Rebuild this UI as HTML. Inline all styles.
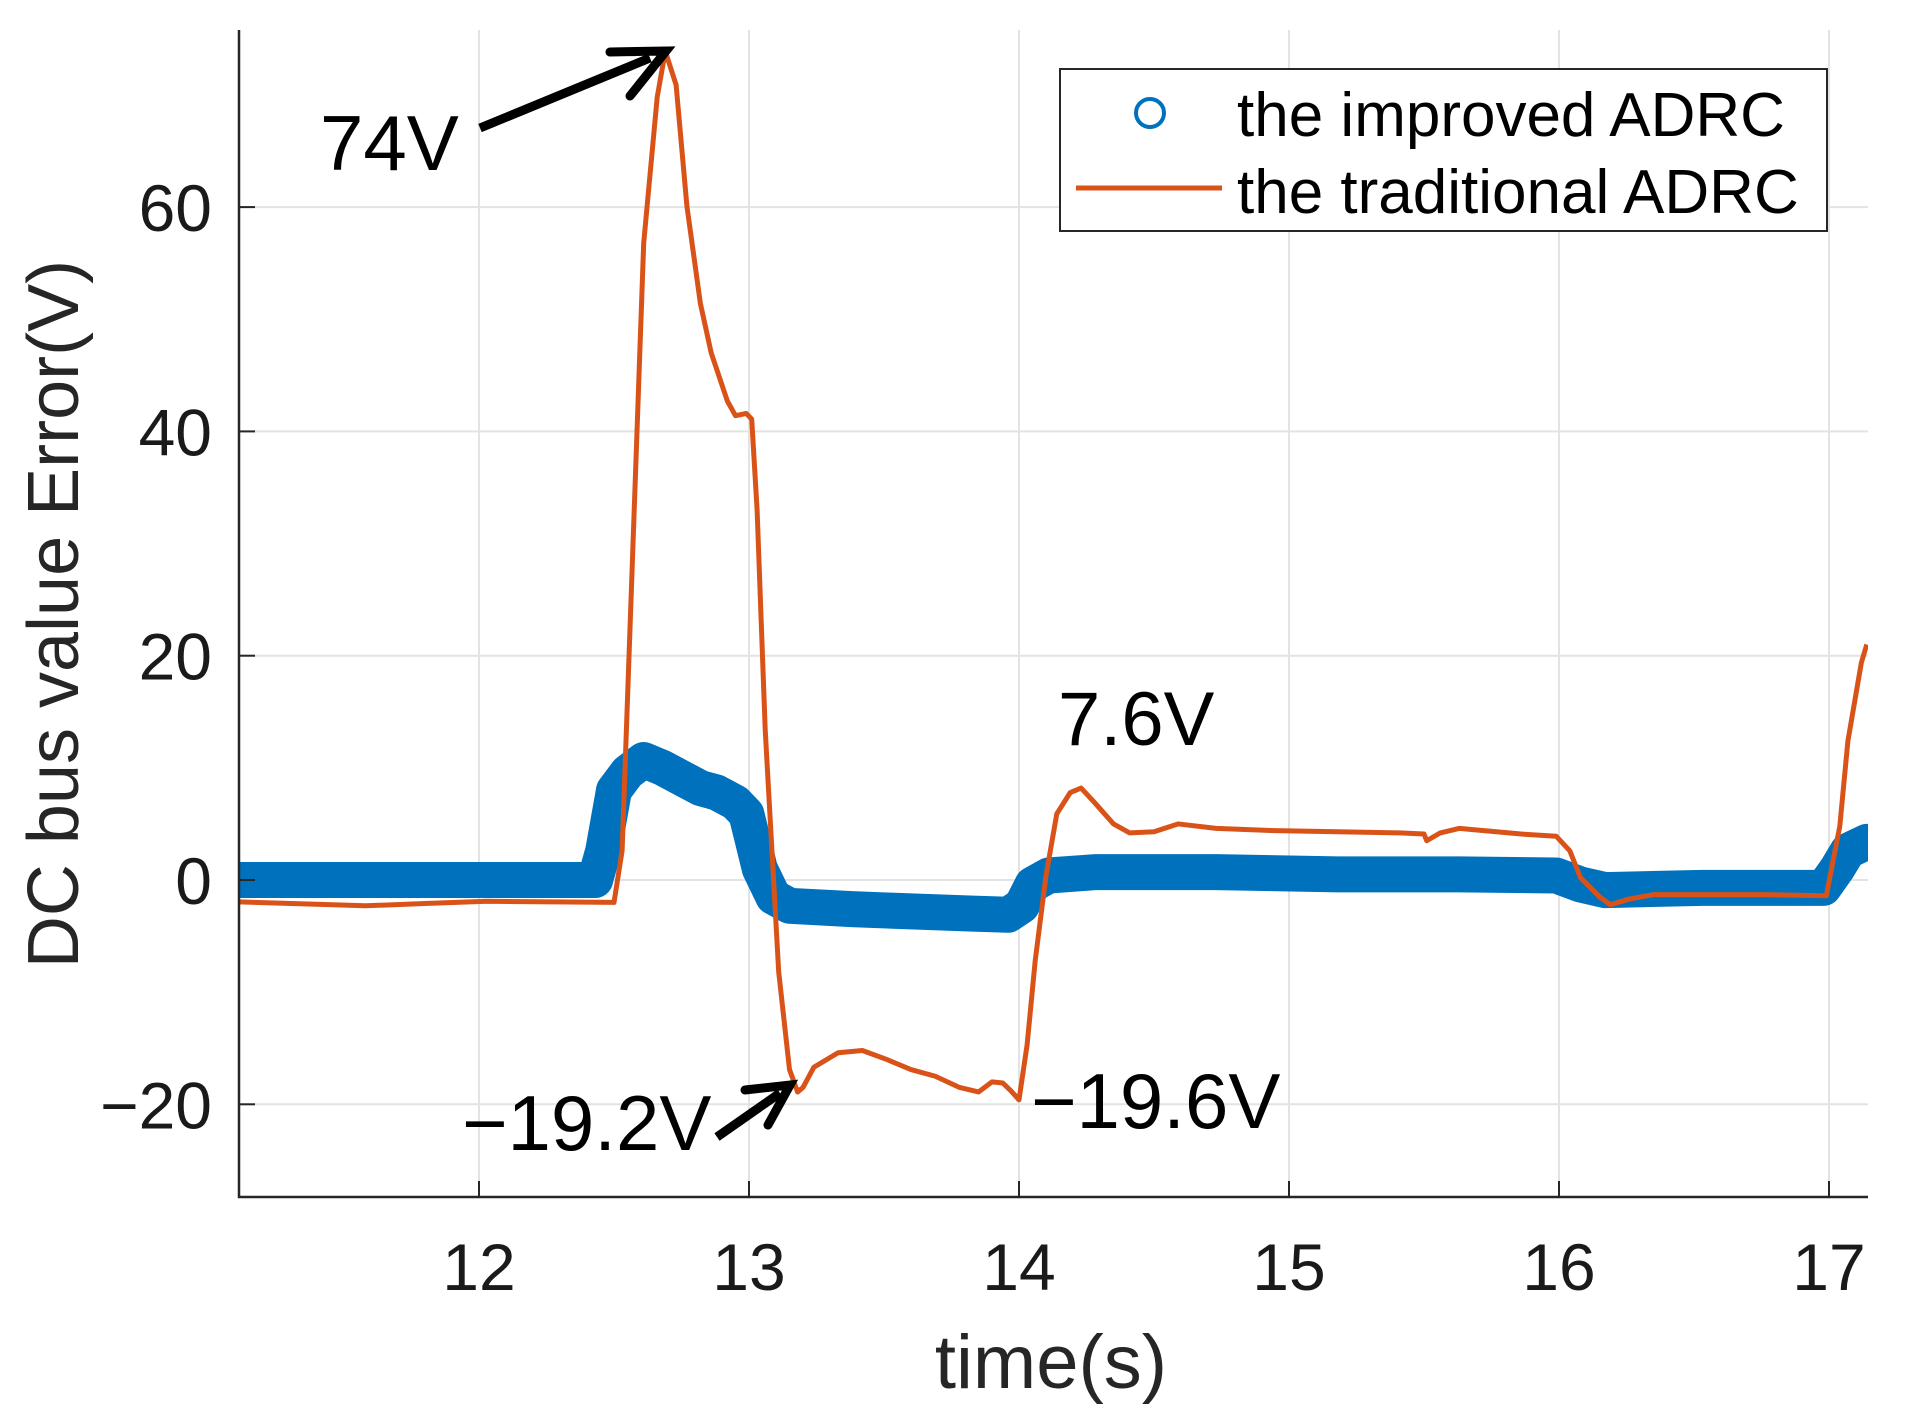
<!DOCTYPE html>
<html><head><meta charset="utf-8"><style>
html,body{margin:0;padding:0;background:#fff;}
svg{display:block;font-family:"Liberation Sans",sans-serif;}
</style></head><body>
<svg id="chart" width="1906" height="1422" viewBox="0 0 1906 1422" xmlns="http://www.w3.org/2000/svg">
<defs><clipPath id="plotclip"><rect x="239" y="30" width="1629" height="1167"/></clipPath></defs>
<g id="grid"></g>
<g id="series" clip-path="url(#plotclip)"></g>
<g id="axes"></g>
<text transform="translate(78,614) rotate(-90)" text-anchor="middle" font-size="72" fill="#262626">DC bus value Error(V)</text>
<text x="1051" y="1388" text-anchor="middle" font-size="76" fill="#262626">time(s)</text>
<g>
<text x="320" y="170" font-size="78" fill="#000">74V</text>
<line x1="480" y1="128" x2="650" y2="58" stroke="#000" stroke-width="9"/>
<polyline points="610,52 666,51 630,96" fill="none" stroke="#000" stroke-width="9" stroke-linecap="round"/>
</g>
<text x="1058" y="745" font-size="76" fill="#000">7.6V</text>
<g>
<text x="462" y="1150" font-size="78" fill="#000">−19.2V</text>
<line x1="717" y1="1137" x2="780" y2="1093" stroke="#000" stroke-width="9"/>
<polyline points="745,1090 790,1085 768,1125" fill="none" stroke="#000" stroke-width="9" stroke-linecap="round"/>
</g>
<text x="1031" y="1128" font-size="78" fill="#000">−19.6V</text>
<g>
<rect x="1060" y="69" width="767" height="162" fill="#fff" stroke="#262626" stroke-width="2"/>
<g>
<circle cx="1150" cy="113" r="14" fill="none" stroke="#0072BD" stroke-width="4"/>
<text x="1237" y="136" font-size="62" fill="#000">the improved ADRC</text>
</g>
<g>
<line x1="1076" y1="188" x2="1222" y2="188" stroke="#D95319" stroke-width="5"/>
<text x="1237" y="213" font-size="62" fill="#000">the traditional ADRC</text>
</g>
</g>
</svg>
<script>
const xTicks=[12,13,14,15,16,17];
const yTicks=[-20,0,20,40,60];
const yTickLabels=["−20","0","20","40","60"];
const tradT=[11.11,11.58,11.80,12.03,12.50,12.53,12.57,12.61,12.66,12.69,12.73,12.77,12.82,12.86,12.92,12.95,12.99,13.01,13.03,13.06,13.11,13.15,13.18,13.20,13.24,13.33,13.42,13.51,13.60,13.69,13.78,13.85,13.90,13.94,13.97,14.00,14.03,14.06,14.10,14.14,14.19,14.23,14.28,14.35,14.41,14.50,14.59,14.73,14.95,15.18,15.41,15.50,15.51,15.56,15.63,15.86,15.99,16.04,16.08,16.15,16.19,16.26,16.35,16.76,16.99,17.04,17.07,17.12,17.14];
const tradV=[-1.95,-2.3,-2.1,-1.9,-2.0,2.6,29.7,56.8,69.8,73.9,70.9,60.1,51.4,47.0,42.7,41.4,41.6,41.1,33.0,13.4,-8.2,-16.9,-18.9,-18.5,-16.7,-15.4,-15.2,-16.0,-16.9,-17.5,-18.5,-18.9,-18.0,-18.1,-18.8,-19.6,-14.7,-7.2,0.4,5.9,7.8,8.2,6.9,5.0,4.2,4.3,5.0,4.6,4.4,4.3,4.2,4.1,3.5,4.2,4.6,4.1,3.9,2.6,0.2,-1.5,-2.2,-1.7,-1.3,-1.3,-1.4,4.8,12.4,19.4,21.0];
const impT=[11.11,12.43,12.46,12.50,12.55,12.61,12.68,12.75,12.82,12.88,12.95,12.99,13.04,13.09,13.15,13.38,13.60,13.83,13.96,14.01,14.05,14.11,14.28,14.73,15.18,15.63,15.99,16.08,16.17,16.53,16.98,17.03,17.07,17.14];
const impV=[0,0,2.6,8.0,9.6,10.7,10.0,9.1,8.2,7.8,6.9,5.9,1.0,-1.5,-2.3,-2.6,-2.8,-3.0,-3.1,-2.3,-0.4,0.4,0.7,0.7,0.5,0.5,0.4,-0.4,-0.9,-0.7,-0.7,1.0,2.6,3.4];

const NS="http://www.w3.org/2000/svg";
const X=t=>479+(t-12)*270;
const Y=v=>880-v*11.215;
const L=239,R=1868,T=30,B=1197;
function mk(tag,attrs,parent){const e=document.createElementNS(NS,tag);for(const k in attrs)e.setAttribute(k,attrs[k]);parent.appendChild(e);return e;}
const grid=document.getElementById('grid'),axes=document.getElementById('axes'),series=document.getElementById('series');
xTicks.forEach(t=>{
  const g=mk('line',{x1:X(t),x2:X(t),y1:T,y2:B,stroke:'#e3e3e3','stroke-width':2},grid);
  
  
  const tk=mk('line',{x1:X(t),x2:X(t),y1:B,y2:B-16,stroke:'#262626','stroke-width':2},axes);
  
  
  const lb=mk('text',{x:X(t),y:1290,'text-anchor':'middle','font-size':66,fill:'#1a1a1a'},axes);
  lb.textContent=String(t);
  
  
});
yTicks.forEach((v,i)=>{
  const g=mk('line',{x1:L,x2:R,y1:Y(v),y2:Y(v),stroke:'#e3e3e3','stroke-width':2},grid);
  
  
  const tk=mk('line',{x1:L,x2:L+16,y1:Y(v),y2:Y(v),stroke:'#262626','stroke-width':2},axes);
  
  
  const lb=mk('text',{x:212,y:Y(v)+24,'text-anchor':'end','font-size':66,fill:'#1a1a1a'},axes);
  lb.textContent=yTickLabels[i];
  
  
});
const ax=mk('polyline',{points:`${L},${T} ${L},${B} ${R},${B}`,fill:'none',stroke:'#262626','stroke-width':2.5},axes);


const ip=mk('polyline',{points:impT.map((t,i)=>X(t)+','+Y(impV[i])).join(' '),fill:'none',stroke:'#0072BD','stroke-width':36,'stroke-linecap':'round','stroke-linejoin':'round'},series);


const tp=mk('polyline',{points:tradT.map((t,i)=>X(t)+','+Y(tradV[i])).join(' '),fill:'none',stroke:'#D95319','stroke-width':5,'stroke-linejoin':'round'},series);


</script>
</body></html>
